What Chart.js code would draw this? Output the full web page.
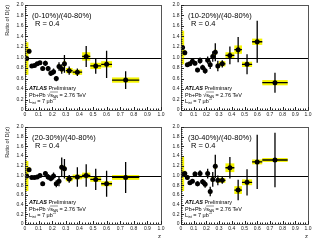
<!DOCTYPE html>
<html>
<head>
<meta charset="utf-8">
<script src="https://cdn.jsdelivr.net/npm/chart.js@4/dist/chart.umd.min.js"></script>
<style>
    body { margin: 0; background: #fff; width: 333px; height: 240px; position: relative; overflow: hidden; }
    canvas { position: absolute; }
</style>
</head>
<body>
<canvas id="panel1" width="170" height="120" style="left:0;top:0"></canvas>
<canvas id="panel2" width="163" height="120" style="left:170px;top:0"></canvas>
<canvas id="panel3" width="170" height="120" style="left:0;top:120px"></canvas>
<canvas id="panel4" width="163" height="120" style="left:170px;top:120px"></canvas>
<script>
// Centro de cada bin en z y su semi-ancho
var zCentro = [0.012, 0.03, 0.05, 0.07, 0.09, 0.11, 0.13, 0.15, 0.17, 0.19, 0.21, 0.23, 0.25, 0.27, 0.29, 0.325, 0.385, 0.45, 0.52, 0.60, 0.74];
var zAncho = [0.013, 0.01, 0.01, 0.01, 0.01, 0.01, 0.01, 0.01, 0.01, 0.01, 0.01, 0.01, 0.01, 0.01, 0.01, 0.025, 0.035, 0.03, 0.04, 0.04, 0.10];

// Etiquetas de centralidad
var centralidades = ['(0-10%)/(40-80%)', '(10-20%)/(40-80%)', '(20-30%)/(40-80%)', '(30-40%)/(40-80%)'];

// (0-10%)/(40-80%)
var ratio1 = [0.98, 1.12, 0.84, 0.85, 0.88, 0.90, 0.79, 0.89, 0.79, 0.70, 0.73, 0.60, 0.83, 0.78, 0.88, 0.75, 0.72, 1.02, 0.84, 0.87, 0.57];
var estad1 = [0.03, 0.04, 0.03, 0.03, 0.03, 0.03, 0.04, 0.05, 0.05, 0.05, 0.06, 0.05, 0.08, 0.09, 0.17, 0.08, 0.07, 0.20, 0.15, 0.26, 0.17];
var sist1 = [0.31, 0.05, 0.03, 0.03, 0.03, 0.03, 0.03, 0.03, 0.03, 0.03, 0.03, 0.03, 0.04, 0.05, 0.05, 0.05, 0.05, 0.08, 0.06, 0.06, 0.05];

// (10-20%)/(40-80%)
var ratio2 = [1.19, 1.09, 0.86, 0.88, 0.93, 0.89, 0.76, 0.94, 0.81, 0.75, 0.95, 0.86, 1.02, 1.10, 0.84, 0.88, 1.04, 1.15, 0.87, 1.30, 0.52];
var estad2 = [0.05, 0.04, 0.03, 0.03, 0.04, 0.04, 0.04, 0.06, 0.05, 0.06, 0.07, 0.08, 0.10, 0.17, 0.10, 0.07, 0.17, 0.24, 0.19, 0.40, 0.19];
var sist2 = [0.32, 0.05, 0.03, 0.03, 0.03, 0.03, 0.03, 0.03, 0.03, 0.03, 0.03, 0.04, 0.04, 0.05, 0.05, 0.05, 0.06, 0.08, 0.05, 0.06, 0.05];

// (20-30%)/(40-80%)
var ratio3 = [0.99, 1.12, 0.96, 0.96, 0.97, 1.00, 0.83, 1.04, 0.97, 0.94, 0.99, 0.83, 0.88, 1.17, 1.14, 0.93, 0.97, 1.00, 0.92, 0.83, 0.96];
var estad3 = [0.03, 0.04, 0.03, 0.03, 0.03, 0.04, 0.04, 0.05, 0.06, 0.06, 0.07, 0.07, 0.10, 0.20, 0.20, 0.08, 0.20, 0.23, 0.22, 0.27, 0.32];
var sist3 = [0.31, 0.05, 0.03, 0.03, 0.03, 0.03, 0.03, 0.03, 0.03, 0.03, 0.03, 0.04, 0.04, 0.05, 0.05, 0.05, 0.05, 0.06, 0.05, 0.05, 0.05];

// (30-40%)/(40-80%)
var ratio4 = [1.03, 1.04, 0.96, 0.85, 0.88, 1.03, 0.83, 1.04, 0.87, 0.82, 1.04, 0.67, 0.92, 1.19, 0.90, 0.90, 1.16, 0.70, 0.86, 1.28, 1.32];
var estad4 = [0.04, 0.04, 0.04, 0.03, 0.04, 0.05, 0.05, 0.07, 0.06, 0.07, 0.10, 0.10, 0.15, 0.24, 0.10, 0.07, 0.22, 0.21, 0.27, 0.56, 0.56];
var sist4 = [0.35, 0.06, 0.04, 0.03, 0.03, 0.03, 0.03, 0.03, 0.03, 0.04, 0.04, 0.04, 0.05, 0.05, 0.05, 0.05, 0.09, 0.08, 0.06, 0.05, 0.04];

// Plugin: cajas amarillas, linea en 1 y barras de error
const pluginErrores = {
    id: 'errores',
    beforeDatasetsDraw(chart, args, opts) {
        const ctx = chart.ctx;
        const x = chart.scales.x, y = chart.scales.y;
        ctx.save();
        ctx.fillStyle = '#f4f400';
        opts.valores.forEach((v, i) => {
            const x0 = x.getPixelForValue(zCentro[i] - zAncho[i]);
            const x1 = x.getPixelForValue(zCentro[i] + zAncho[i]);
            const y0 = y.getPixelForValue(v + opts.sist[i]);
            const y1 = y.getPixelForValue(v - opts.sist[i]);
            ctx.fillRect(x0, y0, x1 - x0, y1 - y0);
        });
        // linea horizontal en 1
        ctx.strokeStyle = '#000';
        ctx.lineWidth = 1;
        const yUno = Math.round(y.getPixelForValue(1)) + 0.5;
        ctx.beginPath();
        ctx.moveTo(x.getPixelForValue(0), yUno);
        ctx.lineTo(x.getPixelForValue(1), yUno);
        ctx.stroke();
        // errores estadisticos y ancho del bin
        ctx.lineWidth = 1.3;
        ctx.beginPath();
        opts.valores.forEach((v, i) => {
            const px = x.getPixelForValue(zCentro[i]);
            const py = y.getPixelForValue(v);
            ctx.moveTo(px, y.getPixelForValue(v + opts.estad[i]));
            ctx.lineTo(px, y.getPixelForValue(v - opts.estad[i]));
            ctx.moveTo(x.getPixelForValue(zCentro[i] - zAncho[i]), py);
            ctx.lineTo(x.getPixelForValue(zCentro[i] + zAncho[i]), py);
        });
        ctx.stroke();
        ctx.restore();
    },
    afterDraw(chart, args, opts) {
        const ctx = chart.ctx;
        const a = chart.chartArea;
        const x = chart.scales.x, y = chart.scales.y;
        ctx.save();
        // marco
        ctx.strokeStyle = '#555';
        ctx.lineWidth = 1;
        ctx.strokeRect(Math.round(a.left) + 0.5, Math.round(a.top) + 0.5, Math.round(a.right - a.left), Math.round(a.bottom - a.top));
        // marcas hacia dentro
        ctx.strokeStyle = '#222';
        ctx.beginPath();
        for (let k = 0; k <= 50; k++) {
            const px = Math.round(x.getPixelForValue(k * 0.02)) + 0.5;
            const largo = (k % 5 === 0) ? 3 : 1.5;
            ctx.moveTo(px, a.bottom);
            ctx.lineTo(px, a.bottom - largo);
        }
        for (let k = 0; k <= 50; k++) {
            const py = Math.round(y.getPixelForValue(k * 0.04)) + 0.5;
            const largo = (k % 5 === 0) ? 3 : 1.5;
            ctx.moveTo(a.left, py);
            ctx.lineTo(a.left + largo, py);
        }
        ctx.stroke();

        // textos
        ctx.fillStyle = '#000';
        ctx.textBaseline = 'alphabetic';
        ctx.font = '7.5px "Liberation Sans", Arial, sans-serif';
        ctx.fillText(opts.etiqueta, a.left + 7, a.top + 12.5);
        ctx.fillText('R = 0.4', a.left + 10, a.top + 20.5);

        const xt = a.left + 4;
        ctx.font = 'italic bold 5.5px "Liberation Sans", Arial, sans-serif';
        ctx.fillText('ATLAS', xt, a.bottom - 20);
        let w = ctx.measureText('ATLAS ').width;
        ctx.font = '5.5px "Liberation Sans", Arial, sans-serif';
        ctx.fillText('Preliminary', xt + w, a.bottom - 20);

        // Pb+Pb sqrt(s_NN) = 2.76 TeV
        let yb = a.bottom - 13.5;
        ctx.fillText('Pb+Pb', xt, yb);
        let xx = xt + ctx.measureText('Pb+Pb ').width;
        ctx.fillText('\u221A', xx, yb);
        xx += ctx.measureText('\u221A').width;
        const xIni = xx;
        ctx.fillText('s', xx, yb);
        xx += ctx.measureText('s').width;
        ctx.font = '3.5px "Liberation Sans", Arial, sans-serif';
        ctx.fillText('NN', xx, yb + 1.5);
        xx += ctx.measureText('NN').width;
        ctx.beginPath();
        ctx.lineWidth = 0.5;
        ctx.moveTo(xIni, yb - 4.5);
        ctx.lineTo(xx, yb - 4.5);
        ctx.stroke();
        ctx.font = '5.5px "Liberation Sans", Arial, sans-serif';
        ctx.fillText(' = 2.76 TeV', xx, yb);

        // L_int = 7 ub^-1
        yb = a.bottom - 7.5;
        ctx.fillText('L', xt, yb);
        xx = xt + ctx.measureText('L').width;
        ctx.font = '3.5px "Liberation Sans", Arial, sans-serif';
        ctx.fillText('int', xx, yb + 1.5);
        xx += ctx.measureText('int').width;
        ctx.font = '5.5px "Liberation Sans", Arial, sans-serif';
        ctx.fillText(' = 7 \u03BCb', xx, yb);
        xx += ctx.measureText(' = 7 \u03BCb').width;
        ctx.font = '3.5px "Liberation Sans", Arial, sans-serif';
        ctx.fillText('-1', xx, yb - 2.5);
        ctx.restore();
    }
};

function crearPanel(idCanvas, valores, estad, sist, etiqueta, conTituloY, conZ, padTop, padRight, anchoY, altoX) {
    let ctx = document.getElementById(idCanvas).getContext('2d');
    return new Chart(ctx, {
        type: 'scatter',
        data: {
            datasets: [{
                data: zCentro.map((z, i) => ({ x: z, y: valores[i] })),
                pointRadius: 2.5,
                pointBackgroundColor: '#000',
                pointBorderWidth: 0,
                showLine: false
            }]
        },
        plugins: [pluginErrores],
        options: {
            responsive: false,
            animation: false,
            events: [],
            layout: { autoPadding: false, padding: { top: padTop, right: padRight, left: 0, bottom: 0 } },
            plugins: {
                legend: { display: false },
                tooltip: { enabled: false },
                errores: { valores: valores, estad: estad, sist: sist, etiqueta: etiqueta }
            },
            scales: {
                x: {
                    type: 'linear', min: 0, max: 1,
                    grid: { display: false, drawTicks: false },
                    border: { display: false },
                    ticks: { stepSize: 0.1, autoSkip: false, maxRotation: 0, padding: 1.5, color: '#222', font: { size: 5, family: '"Liberation Sans", Arial, sans-serif' } },
                    title: { display: conZ, text: 'z', align: 'end', padding: 0, color: '#222', font: { size: 6, family: '"Liberation Sans", Arial, sans-serif' } },
                    afterFit: function (scale) { scale.height = altoX; }
                },
                y: {
                    type: 'linear', min: 0, max: 2,
                    grid: { display: false, drawTicks: false },
                    border: { display: false },
                    ticks: { stepSize: 0.2, autoSkip: false, padding: 1.5, color: '#222', font: { size: 5, family: '"Liberation Sans", Arial, sans-serif' } },
                    title: { display: conTituloY, text: 'Ratio of D(z)', align: 'end', padding: { top: 4, bottom: 0 }, color: '#222', font: { size: 5.5, family: '"Liberation Sans", Arial, sans-serif' } },
                    afterFit: function (scale) { scale.width = anchoY; }
                }
            }
        }
    });
}

crearPanel('panel1', ratio1, estad1, sist1, centralidades[0], true, false, 5, 9, 25, 10);
crearPanel('panel2', ratio2, estad2, sist2, centralidades[1], false, false, 5, 25, 11, 10);
crearPanel('panel3', ratio3, estad3, sist3, centralidades[2], true, true, 7, 9, 25, 16);
crearPanel('panel4', ratio4, estad4, sist4, centralidades[3], false, true, 7, 25, 11, 16);
</script>
</body>
</html>
